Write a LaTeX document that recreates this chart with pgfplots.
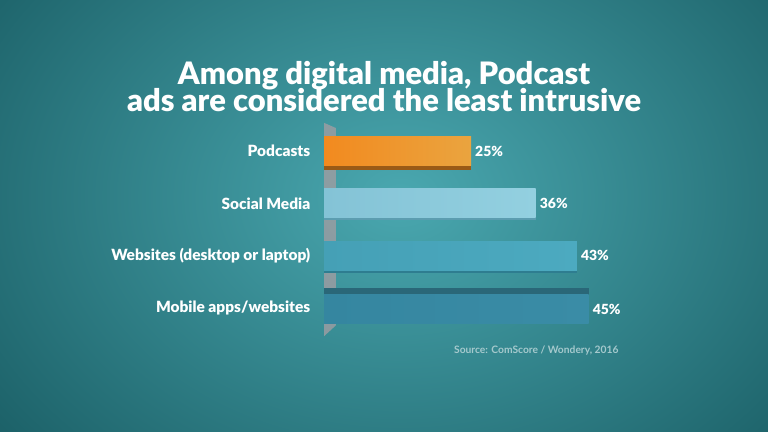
\documentclass[border=0pt]{standalone}
\usepackage{pgfplots}
\pgfplotsset{compat=1.18}
\usepackage{fontspec}
\setmainfont{Lato}
\newfontfamily\blackfont{Lato Black}
\definecolor{bgin}{HTML}{4AA8B0}
\definecolor{bgout}{HTML}{1C6168}
\definecolor{orA}{HTML}{F28A1F}
\definecolor{orB}{HTML}{EAA43F}
\definecolor{orS}{HTML}{9A5A16}
\definecolor{smA}{HTML}{84C3D6}
\definecolor{smB}{HTML}{93D0E0}
\definecolor{smS}{HTML}{5C9DB0}
\definecolor{wsA}{HTML}{45A0B6}
\definecolor{wsB}{HTML}{4CAAC0}
\definecolor{wsS}{HTML}{2E7D90}
\definecolor{maA}{HTML}{3586A0}
\definecolor{maB}{HTML}{3A8CA6}
\definecolor{maS}{HTML}{2A6778}
\definecolor{wall}{HTML}{9A9DA2}
\definecolor{srcc}{HTML}{A5C9CD}
\begin{document}
\begin{tikzpicture}
\path[use as bounding box] (0bp,0bp) rectangle (768bp,432bp);
\shade[inner color=bgin, outer color=bgout] (-110bp,-150bp) rectangle (910bp,620bp);
\node[text=white, inner sep=0pt, anchor=base] at (384bp,347bp) {\parbox[t]{720bp}{\centering\fontsize{31}{27}\selectfont\blackfont\lineskiplimit=-100pt Among digital media, Podcast\\ads are considered the least intrusive}};
\begin{axis}[
  at={(324bp,124bp)}, anchor=origin,
  scale only axis, width=294bp, height=219.7bp,
  xmin=0, xmax=50, ymin=-0.6, ymax=3.6,
  axis line style={draw=none}, tick style={draw=none},
  xtick=\empty, ytick={0,1,2,3},
  yticklabels={Mobile apps/websites, Websites (desktop or laptop), Social Media, Podcasts},
  yticklabel style={font=\fontsize{15.5}{17}\selectfont\blackfont, text=white, xshift=-6bp},
  clip=false,
  xbar, bar width=29bp,
  /pgf/number format/assume math mode=true,
  nodes near coords={\pgfmathprintnumber{\pgfplotspointmeta}\%},
  every node near coord/.append style={font=\fontsize{14}{16}\selectfont\blackfont, text=white, inner sep=1bp, xshift=3bp},
]
\fill[wall, opacity=0.85] (axis cs:0,3.54) -- (axis cs:2.04,3.44) -- (axis cs:2.04,-0.33) -- (axis cs:0,-0.54) -- cycle;
% shadows / 3D edges
\addplot[draw=none, fill=orS, bar shift=-4bp, nodes near coords={}] coordinates {(25,3)};
\addplot[draw=none, fill=smS, bar shift=-2bp, nodes near coords={}] coordinates {(36,2)};
\addplot[draw=none, fill=wsS, bar shift=-3bp, nodes near coords={}] coordinates {(43,1)};
\addplot[draw=none, fill=maS, bar shift=5bp, nodes near coords={}] coordinates {(45,0)};
% main bars
\addplot[draw=none, left color=orA, right color=orB, bar shift=0bp] coordinates {(25,3)};
\addplot[draw=none, left color=smA, right color=smB, bar shift=0bp] coordinates {(36,2)};
\addplot[draw=none, left color=wsA, right color=wsB, bar shift=0bp] coordinates {(43,1)};
\addplot[draw=none, left color=maA, right color=maB, bar shift=-1bp] coordinates {(45,0)};
\end{axis}
\node[text=srcc, anchor=east, font=\fontsize{10.3}{12}\selectfont\bfseries] at (622bp,81bp) {Source: ComScore / Wondery, 2016};
\end{tikzpicture}
\end{document}
